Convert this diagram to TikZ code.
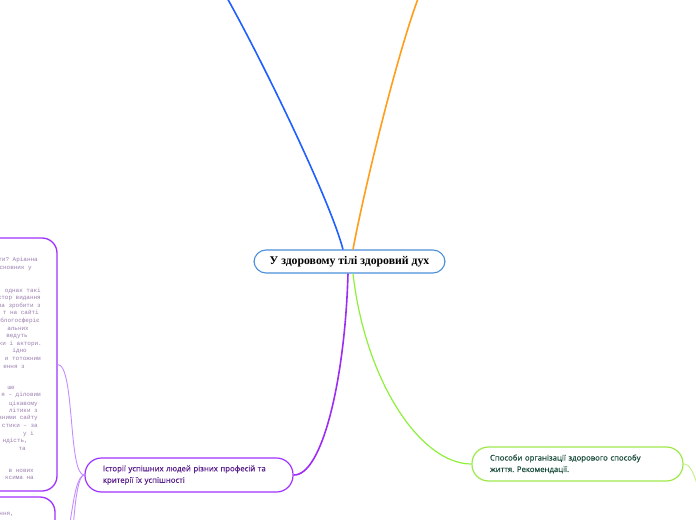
\documentclass[tikz,border=0pt]{standalone}
\usepackage{fontspec}
\setmainfont{Liberation Serif}
\newfontfamily\uisans{Open Sans}[FakeBold=0.35]
\newfontfamily\uimono{Liberation Mono}
\definecolor{cblue}{HTML}{2060FF}
\definecolor{corange}{HTML}{FF9E1B}
\definecolor{cpurple}{HTML}{9D2CF5}
\definecolor{cpurplebox}{HTML}{A033FF}
\definecolor{cpurplelight}{HTML}{C68CFF}
\definecolor{cgreen}{HTML}{8FF03C}
\definecolor{cgreenbox}{HTML}{9DE84A}
\definecolor{cgreenlight}{HTML}{C6F08A}
\definecolor{croot}{HTML}{4A90D9}
\definecolor{chisttext}{HTML}{5A1E8C}
\definecolor{cgreentext}{HTML}{1A4D3A}
\definecolor{ctiny}{HTML}{9B7FB0}
\frenchspacing
\tikzset{
  rootbox/.style={draw=croot, line width=1.1bp, rounded corners=12bp, fill=white,
    minimum width=191bp, minimum height=23bp, inner sep=0pt,
    font=\bfseries\fontsize{11.8}{13}\selectfont},
  subbox/.style={line width=1.2bp, rounded corners=16.5bp, fill=white,
    minimum width=#1, minimum height=34bp, inner xsep=18bp, inner ysep=0pt,
    align=left, font=\uisans\fontsize{7.8}{11.5}\selectfont},
  bigbox/.style={draw=cpurplebox, line width=1.3bp, rounded corners=15bp,
    minimum width=100bp, inner sep=0pt},
  branch/.style={line width=1.6bp},
  twig/.style={line width=0.9bp, draw=cpurplelight},
  tinytext/.style={anchor=base east, inner sep=0pt, text=ctiny,
    font=\uimono\fontsize{6}{7.5}\selectfont}
}
\begin{document}
\begin{tikzpicture}[x=1bp,y=-1bp]
\useasboundingbox (0,0) rectangle (696,520);
\clip (0,0) rectangle (696,520);
\fill[white] (0,0) rectangle (696,520);

% free ends
\coordinate (blueend) at (226,-4);
\coordinate (orangeend) at (419,-4);
\coordinate (greenend) at (700,495);
\coordinate (down2) at (55,700);

% boxes on the left
\node[bigbox, minimum height=253bp] (box1) at (7,364.5) {};
\node[bigbox, minimum height=126bp] (box2) at (5,560) {};

% tiny text in the left boxes
\foreach \i/\xe/\yb/\s in {
  1/38/262/{ти? Аріанна},
  2/32/270/{засновник у},
  3/41/292/{. однак такі},
  4/41/299/{ктор видання},
  5/41/307/{ла зробити з},
  6/39/314/{т на сайті},
  7/40/322/{блогосферіє},
  8/29/330/{альних},
  9/28/337/{ведуть},
  10/42/345/{ки і актори.},
  11/27/352/{ідно},
  12/41/360/{и тотожним},
  13/25/368/{ення з},
  14/15/389/{ше},
  15/41/396/{я – діловим},
  16/38/405/{цікавому},
  17/38/412/{літики з},
  18/38/419/{вними сайту},
  19/38/427/{стики – за},
  20/34/435/{у і},
  21/28/442/{ндість,},
  22/26/450/{та},
  23/34/472/{в нових},
  24/34/479/{ксима на},
  25/14/515/{ння,}}
  { \node[tinytext] (tl\i) at (\xe,\yb) {\s}; }

% main nodes
\node[rootbox] (root) at (349.5,261.5) {У здоровому тілі здоровий дух};
\node[subbox=208bp, draw=cpurplebox, text=chisttext, text width=172bp] (hist) at (189,475)
  {Історії успішних людей різних професій та\\критерії їх успішності};
\node[subbox=211bp, draw=cgreenbox, text=cgreentext, text width=175bp] (ways) at (577.5,464)
  {Способи організації здорового способу\\життя. Рекомендації.};

% branches
\draw[branch, cblue] ([xshift=-6.5bp]root.north) .. controls (330,200) and (262,60) .. (blueend);
\draw[branch, corange] ([xshift=3.5bp]root.north) .. controls (362,200) and (395,60) .. (orangeend);
\draw[branch, cpurple] ([xshift=-1.5bp]root.south) .. controls (345,380) and (322,476) .. (hist.east);
\draw[line width=1.2bp, cgreen] ([xshift=3.5bp]root.south) .. controls (365,380) and (420,464) .. (ways.west);
\draw[line width=0.9bp, cgreenlight] (ways.east) .. controls (690,464) and (694,472) .. (greenend);

% twigs from the left node
\draw[twig] (hist.west) .. controls (68,476) and (75,364.5) .. (box1.east);
\draw[twig] (hist.west) .. controls (70,476) and (72,560) .. (box2.east);
\draw[twig] (hist.west) .. controls (68,476) and (74,640) .. (down2);
\end{tikzpicture}
\end{document}
